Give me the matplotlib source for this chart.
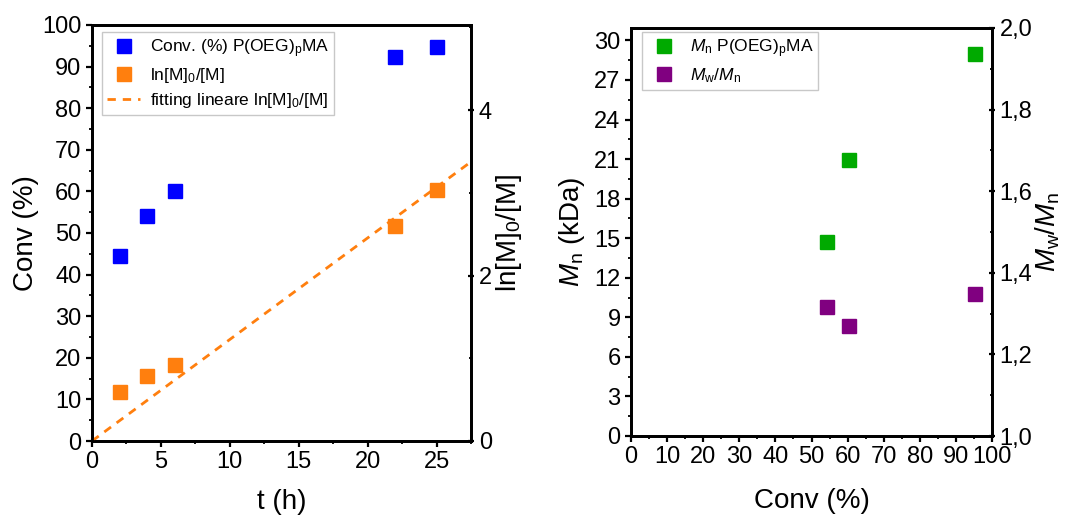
import numpy as np
import matplotlib
matplotlib.use("Agg")
import matplotlib.pyplot as plt
from matplotlib.ticker import MultipleLocator, FuncFormatter

plt.rcParams["font.family"] = ["Liberation Sans", "DejaVu Sans"]
plt.rcParams["mathtext.fontset"] = "custom"
plt.rcParams["mathtext.rm"] = "Liberation Sans"
plt.rcParams["mathtext.it"] = "Liberation Sans:italic"

# Kinetics: conversion and first-order plot vs time
time_h = [2, 4, 6, 22, 25]
conv_pct = [44.4, 54.0, 60.1, 92.2, 94.8]
ln_m0_m = [0.59, 0.78, 0.92, 2.60, 3.04]

# Molecular weight and dispersity vs conversion
conv_gpc = [54.4, 60.3, 95.2]
mn_kda = [14.7, 20.9, 29.0]
dispersity = [1.317, 1.269, 1.348]

BLUE = "#0000FF"
ORANGE = "#FF7F0E"
GREEN = "#00AA00"
PURPLE = "#800080"

W, H = 1085, 520
fig = plt.figure(figsize=(W / 100, H / 100), dpi=100)

TICK_FS = 17
LABEL_FS = 20
LEG_FS = 12.5
MS = 9.5
SPINE_W = 2.0


def box(x0, x1, ytop, ybot):
    return [x0 / W, 1 - ybot / H, (x1 - x0) / W, (ybot - ytop) / H]


def style(ax):
    for s in ax.spines.values():
        s.set_linewidth(SPINE_W)
    ax.tick_params(which="major", length=4, width=1.6, labelsize=TICK_FS, direction="out")
    ax.tick_params(which="minor", length=2.5, width=1.3, direction="out")


def legend(ax, handles, anchor):
    leg = ax.legend(handles=handles, loc="upper left", fontsize=LEG_FS,
                    frameon=True, fancybox=False, edgecolor="#BBBBBB",
                    borderpad=0.3, labelspacing=0.35, handlelength=1.9,
                    handletextpad=0.55, bbox_to_anchor=anchor,
                    borderaxespad=0)
    leg.get_frame().set_linewidth(1.0)
    return leg


# ---------- left panel ----------
ax1 = fig.add_axes(box(92, 471, 25, 441))
ax1r = ax1.twinx()
style(ax1)
style(ax1r)

h1, = ax1.plot(time_h, conv_pct, "s", color=BLUE, ms=MS, ls="none",
               label="Conv. (%) P(OEG)$_\\mathrm{p}$MA")
h2, = ax1r.plot(time_h, ln_m0_m, "s", color=ORANGE, ms=MS, ls="none",
                label="ln[M]$_\\mathit{0}$/[M]")

# linear fit through the origin
t_arr = np.asarray(time_h, float)
y_arr = np.asarray(ln_m0_m, float)
k_app = np.sum(t_arr * y_arr) / np.sum(t_arr ** 2)
t_fit = np.array([0.0, 27.5])
h3, = ax1r.plot(t_fit, k_app * t_fit, "--", color=ORANGE, lw=2,
                dashes=(3, 2.5), label="fitting lineare ln[M]$_\\mathit{0}$/[M]")

ax1.set_xlim(0, 27.5)
ax1.set_ylim(0, 100)
ax1r.set_ylim(0, 5.03)
ax1.xaxis.set_major_locator(MultipleLocator(5))
ax1.xaxis.set_minor_locator(MultipleLocator(2.5))
ax1.yaxis.set_major_locator(MultipleLocator(10))
ax1.yaxis.set_minor_locator(MultipleLocator(5))
ax1r.yaxis.set_major_locator(MultipleLocator(2))
ax1r.yaxis.set_minor_locator(MultipleLocator(1))
ax1r.tick_params(axis="y", which="both", direction="inout")

ax1.set_xlabel("t (h)", fontsize=LABEL_FS)
ax1.set_ylabel("Conv (%)", fontsize=LABEL_FS)
ax1r.set_ylabel("ln[M]$_\\mathit{0}$/[M]", fontsize=LABEL_FS)
ax1.xaxis.set_label_coords(0.5, -0.115)
ax1.yaxis.set_label_coords(-0.14, 0.5)
ax1r.yaxis.set_label_coords(1.06, 0.5)

legend(ax1, [h1, h2, h3], (0.026, 0.983))

# ---------- right panel ----------
ax2 = fig.add_axes(box(631, 992, 28, 436))
ax2r = ax2.twinx()
style(ax2)
style(ax2r)

g1, = ax2.plot(conv_gpc, mn_kda, "s", color=GREEN, ms=MS, ls="none",
               label="$M_\\mathrm{n}$ P(OEG)$_\\mathrm{p}$MA")
g2, = ax2r.plot(conv_gpc, dispersity, "s", color=PURPLE, ms=MS, ls="none",
                label="$M_\\mathrm{w}/M_\\mathrm{n}$")

ax2.set_xlim(0, 100)
ax2.set_ylim(0, 30.94)
ax2r.set_ylim(1.0, 2.0)
ax2.xaxis.set_major_locator(MultipleLocator(10))
ax2.xaxis.set_minor_locator(MultipleLocator(5))
ax2.yaxis.set_major_locator(MultipleLocator(3))
ax2.yaxis.set_minor_locator(MultipleLocator(1.5))
ax2r.yaxis.set_major_locator(MultipleLocator(0.2))
ax2r.yaxis.set_minor_locator(MultipleLocator(0.1))
ax2r.yaxis.set_major_formatter(FuncFormatter(lambda v, p: f"{v:.1f}".replace(".", ",")))
ax2r.tick_params(axis="y", which="both", direction="inout")

ax2.set_xlabel("Conv (%)", fontsize=LABEL_FS)
ax2.set_ylabel("$M_\\mathrm{n}$ (kDa)", fontsize=LABEL_FS)
ax2r.set_ylabel("$M_\\mathrm{w}/M_\\mathrm{n}$", fontsize=LABEL_FS)
ax2.xaxis.set_label_coords(0.5, -0.128)
ax2.yaxis.set_label_coords(-0.122, 0.5)
ax2r.yaxis.set_label_coords(1.116, 0.5)

legend(ax2, [g1, g2], (0.03, 0.99))

fig.savefig("out.png", dpi=100, facecolor="white")
